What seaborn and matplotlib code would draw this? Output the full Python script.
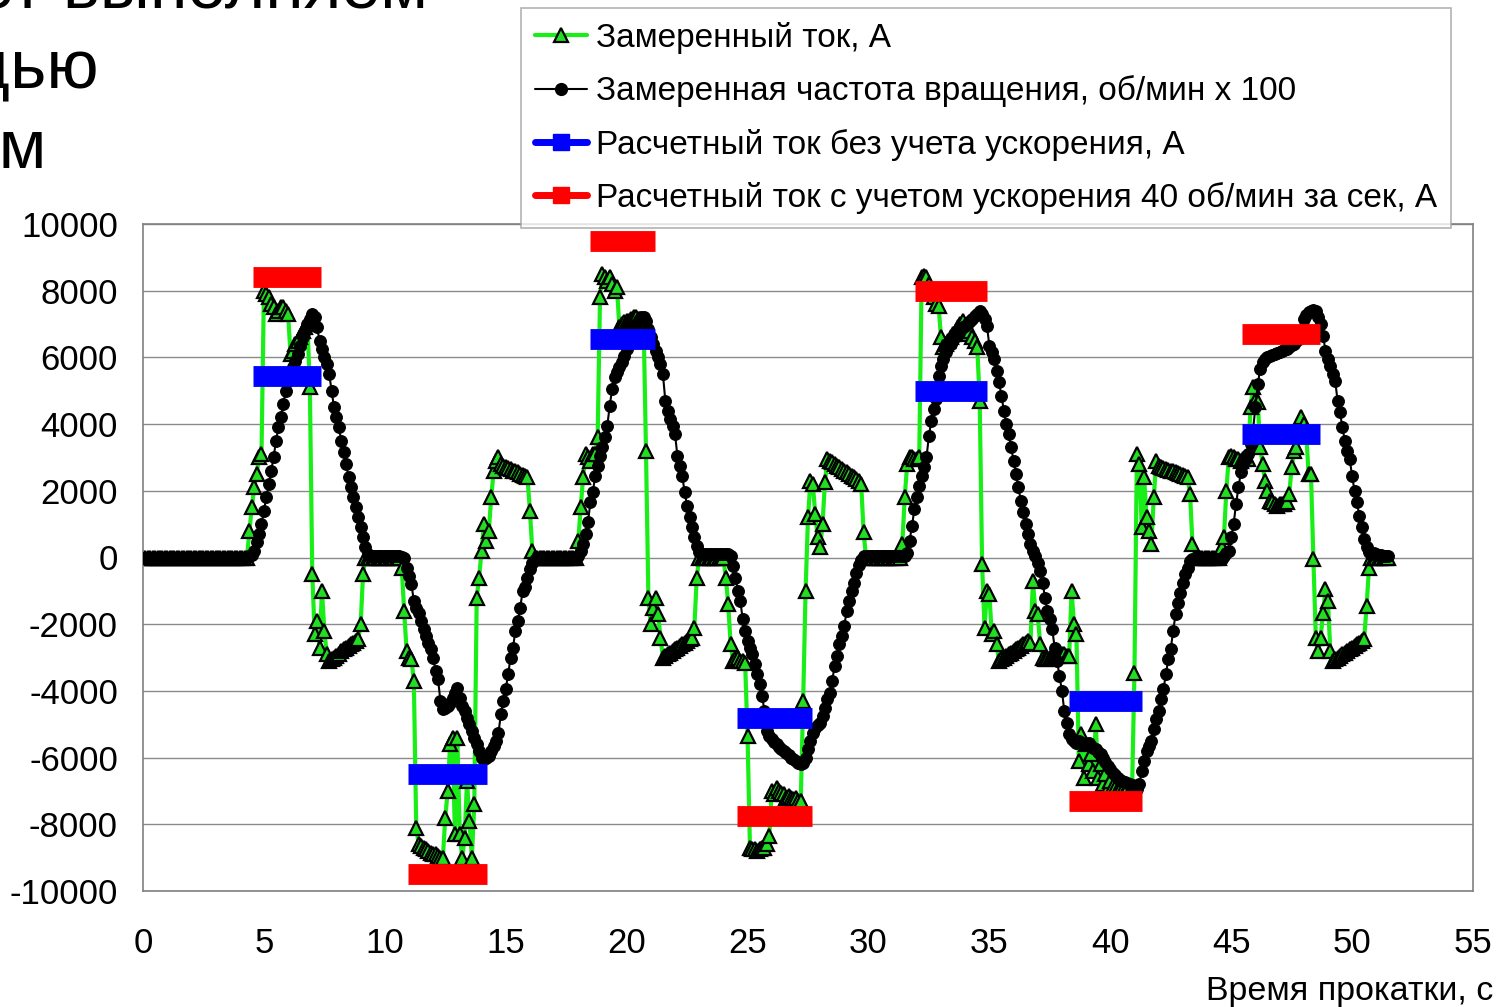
import numpy as np
import pandas as pd
import matplotlib.pyplot as plt
import seaborn as sns
from matplotlib.lines import Line2D

# logger sampling step, s
dt = 0.1

# measured roll speed, rpm (one row = one second)
speed_rpm = [
    0, 0, 0, 0, 0, 0, 0, 0, 0, 0,
    0, 0, 0, 0, 0, 0, 0, 0, 0, 0,
    0, 0, 0, 0, 0, 0, 0, 0, 0, 0,
    0, 0, 0, 0, 0, 0, 0, 0, 0, 0,
    0, 0, 0, 0, 0.3, 0.8, 2, 4.5, 7, 10,
    14, 18, 22, 26, 30, 35, 39, 42, 46, 50,
    53, 55.5, 57, 59, 61, 63.5, 66, 68, 70, 71.5,
    73, 72, 69, 65, 62.5, 60, 58, 55, 50, 45,
    42, 39, 35, 31.5, 28, 24, 21, 18, 15, 12,
    9, 6, 3, 1, 0.5, 0.3, 0.3, 0.3, 0.3, 0.3,
    0.3, 0.3, 0.3, 0.3, 0.3, 0.3, 0.3, 0.2, 0, -3,
    -5.5, -8, -13, -15, -16.5, -19, -21.5, -23.5, -25.5, -27.5,
    -30, -34, -36.5, -43, -45.5, -45, -44.5, -43.5, -42, -40.5,
    -39, -42, -44.5, -46, -48, -50, -52, -54, -56, -58,
    -60, -60.5, -60, -59.5, -58, -56.5, -55, -52.5, -47, -43,
    -39.5, -35, -30, -27, -22, -19, -15, -10, -8.7, -6,
    -3.5, -1.5, -0.8, -0.5, -0.5, -0.5, -0.5, -0.5, -0.5, -0.5,
    -0.5, -0.5, -0.5, -0.5, -0.5, -0.5, -0.5, -0.5, -0.5, -0.5,
    0.5, 2, 4, 7, 10.5, 16.5, 19.5, 24.5, 27.5, 30.5,
    33, 36, 39.5, 45.5, 50.5, 54, 55.5, 57, 58.5, 60.5,
    62.5, 64, 65.5, 67.5, 70, 71.3, 72.2, 72, 70.8, 68.5,
    66, 64, 62, 60, 58, 55, 47, 44, 41.5, 39.5,
    37, 30.5, 27.5, 24.5, 19.5, 15.5, 12, 9, 6, 3.3,
    1.5, 1, 1, 1, 1, 1, 1, 1, 1, 1,
    1, 1, 1, 0.5, -2.5, -6, -10, -13, -18.5, -22,
    -25, -27, -29, -32, -35, -38, -41.5, -46, -52, -53.5,
    -54.5, -55.3, -56, -56.8, -57.5, -58, -58.7, -59.3, -60, -60.5,
    -61, -61.5, -62, -61.5, -60, -57.5, -55, -52.5, -51, -50.3,
    -49.5, -47.5, -45, -42.5, -40.5, -37, -32.5, -29.5, -26, -23.5,
    -20.5, -16, -13, -10, -7.5, -4.5, -2.3, -0.8, 0.3, 0.3,
    0.3, 0.3, 0.3, 0.3, 0.3, 0.3, 0.3, 0.3, 0.3, 0.3,
    0.3, 0.3, 0.3, 0.3, 0.3, 0.5, 1.2, 5, 9.5, 14.5,
    18, 21.5, 24.5, 27, 30, 36.5, 41, 44.5, 47.5, 54.5,
    57.5, 59.5, 61.5, 63, 64, 65.3, 66.3, 67.3, 68.3, 69,
    69.5, 70.2, 70.8, 71.5, 72.3, 73, 73.8, 73, 71.5, 69.5,
    63.5, 61.5, 59.5, 56, 52.5, 48.5, 44, 40, 37, 33,
    29, 25, 21, 17, 13.5, 10, 7, 4, 2, 0.5,
    -1.5, -4, -7.5, -12, -16, -18.5, -21.5, -27, -31, -35.5,
    -40, -46, -49.5, -53, -54.5, -55, -55.5, -55, -55.5, -56,
    -56, -55.5, -56.5, -57, -57.5, -58.3, -59, -60, -61.3, -62.5,
    -63.5, -64.5, -65.3, -66, -66.7, -67, -67.3, -67.6, -67.8, -68.2,
    -68.8, -69.5, -68, -64, -61, -58, -56.5, -55, -51.5, -48.5,
    -46, -42.5, -39.5, -35, -30.5, -27.5, -22, -17, -13.5, -10.5,
    -7.5, -5, -3, -1, -0.5, -0.3, -0.3, -0.3, -0.3, -0.3,
    -0.3, -0.3, -0.3, -0.3, -0.3, -0.3, -0.3, 0.5, 1.2, 2,
    6, 10, 16, 21, 25.5, 28, 29.5, 31, 34, 38,
    45, 52, 56.5, 58.5, 59.5, 60, 60.3, 60.6, 60.9, 61.2,
    61.5, 61.8, 62.2, 62.6, 63.1, 63.6, 64.1, 64.8, 65.6, 67.5,
    71.5, 72.8, 73.5, 74, 74.3, 74, 72, 70, 66.5, 62,
    59.5, 57.5, 55, 53, 47, 43.5, 39, 35, 32, 29.5,
    24.5, 20, 16.5, 12.5, 9, 5.5, 3, 1.5, 1, 1.2,
    1, 0.8, 0.6, 0.5, 0.4, 0.3,
]

# measured motor current, kA (same sampling)
current_ka = [
    0, 0, 0, 0, 0, 0, 0, 0, 0, 0,
    0, 0, 0, 0, 0, 0, 0, 0, 0, 0,
    0, 0, 0, 0, 0, 0, 0, 0, 0, 0,
    0, 0, 0, 0, 0, 0, 0, 0, 0, 0,
    0, 0, 0, 0, 0.8, 1.5, 2.1, 2.5, 3.0, 3.1,
    8.0, 7.9, 7.8, 7.6, 7.5, 7.3, 7.4, 7.5, 7.5, 7.4,
    7.3, 6.1, 6.2, 6.4, 6.5, 6.6, 6.8, 6.9, 7.0, 5.1,
    -0.5, -2.3, -1.9, -2.7, -1.0, -2.2, -2.9, -3.1, -3.05, -3.0,
    -2.95, -2.9, -2.8, -2.75, -2.7, -2.65, -2.6, -2.55, -2.5, -2.45,
    -2.0, -0.5, 0, 0, 0, 0, 0, 0, 0, 0,
    0, 0, 0, 0, 0, 0, 0, -0.3, -1.6, -2.8,
    -3.0, -3.05, -3.7, -8.1, -8.6, -8.65, -8.7, -8.75, -8.8, -8.85,
    -8.9, -8.9, -8.95, -9.0, -9.0, -7.8, -7.0, -5.6, -5.4, -8.3,
    -5.4, -8.3, -9.0, -8.4, -6.7, -7.9, -9.0, -7.4, -1.2, -0.6,
    0.2, 1.0, 0.5, 0.8, 1.8, 2.6, 2.9, 3.0, 2.8, 2.75,
    2.7, 2.68, 2.65, 2.6, 2.58, 2.55, 2.5, 2.48, 2.45, 2.4,
    1.4, 0.2, 0, 0, 0, 0, 0, 0, 0, 0,
    0, 0, 0, 0, 0, 0, 0, 0, 0, 0,
    0.5, 1.5, 2.4, 3.1, 3.0, 2.9, 3.1, 3.1, 3.6, 7.8,
    8.5, 8.4, 8.3, 8.4, 8.2, 8.0, 8.1, 6.9, 7.0, 7.05,
    7.1, 7.1, 7.15, 7.2, 7.2, 7.15, 7.1, 7.1, 3.2, -1.2,
    -2.0, -1.5, -1.2, -1.7, -2.4, -3.0, -2.95, -2.9, -2.85, -2.8,
    -2.75, -2.7, -2.65, -2.6, -2.55, -2.5, -2.45, -2.4, -2.1, -0.6,
    0, 0, 0, 0, 0, 0, 0, 0, 0, 0,
    0, -0.6, -1.4, -2.6, -3.1, -3.05, -3.0, -3.1, -3.1, -3.15,
    -5.35, -8.7, -8.75, -8.75, -8.8, -8.75, -8.7, -8.7, -8.6, -8.35,
    -7.0, -7.1, -6.9, -7.0, -7.05, -7.1, -7.2, -7.15, -7.2, -7.25,
    -7.2, -7.3, -7.3, -4.3, -1.0, 1.2, 2.3, 2.2, 1.3, 0.6,
    0.3, 1.0, 2.25, 2.95, 2.9, 2.85, 2.8, 2.75, 2.7, 2.65,
    2.6, 2.55, 2.5, 2.45, 2.4, 2.35, 2.3, 2.2, 0.75, 0,
    0, 0, 0, 0, 0, 0, 0, 0, 0, 0,
    0, 0, 0, 0, 0.4, 1.8, 2.8, 3.0, 3.0, 2.95,
    2.95, 3.0, 8.4, 8.45, 8.4, 8.2, 8.0, 7.8, 7.6, 7.55,
    6.6, 6.3, 6.4, 6.5, 6.6, 6.7, 6.8, 6.9, 7.0, 7.1,
    6.9, 6.7, 6.8, 6.6, 6.5, 6.3, 4.7, -0.2, -2.1, -1.0,
    -1.1, -2.3, -2.2, -2.6, -3.1, -3.05, -3.0, -2.95, -2.9, -2.85,
    -2.8, -2.75, -2.7, -2.65, -2.6, -2.55, -2.5, -2.55, -0.7, -1.6,
    -1.7, -2.6, -3.0, -3.05, -3.05, -3.0, -3.0, -2.95, -2.95, -2.9,
    -2.9, -2.9, -2.95, -2.95, -1.0, -2.0, -2.3, -6.1, -5.3, -6.6,
    -5.6, -6.2, -5.9, -6.4, -5.0, -6.6, -6.2, -6.8, -6.5, -6.9,
    -6.7, -6.85, -6.9, -6.95, -6.95, -7.0, -7.0, -6.95, -7.0, -7.0,
    -3.45, 3.1, 2.8, 0.9, 2.4, 1.2, 0.8, 0.4, 1.8, 2.9,
    2.75, 2.7, 2.68, 2.65, 2.62, 2.6, 2.58, 2.55, 2.52, 2.5,
    2.48, 2.45, 2.4, 1.9, 0.4, 0, 0, 0, 0, 0,
    0, 0, 0, 0, 0, 0, 0.3, 0.6, 2.0, 3.0,
    3.05, 3.0, 2.95, 2.95, 2.9, 2.95, 3.0, 2.95, 4.5, 5.1,
    4.7, 4.65, 3.3, 2.8, 2.3, 2.0, 1.7, 1.65, 1.6, 1.55,
    1.6, 1.6, 1.6, 1.65, 1.9, 2.7, 3.2, 3.3, 3.7, 4.2,
    4.0, 3.8, 2.5, 2.5, -0.05, -2.4, -2.8, -2.4, -1.65, -0.95,
    -1.3, -2.8, -3.1, -3.05, -3.0, -2.95, -2.9, -2.85, -2.8, -2.75,
    -2.7, -2.65, -2.6, -2.55, -2.5, -2.45, -1.45, -0.3, 0, 0,
    0, 0, 0, 0, 0, 0,
]

# calculated current per pass (start/end of pass, s; current, A)
pass_start = [4.55, 10.95, 18.5, 24.57, 31.93, 38.28, 45.44]
pass_end = [7.38, 14.22, 21.18, 27.67, 34.92, 41.3, 48.66]
calc_no_accel = [5450, -6500, 6550, -4800, 5000, -4300, 3700]
calc_accel = [8400, -9500, 9500, -7750, 8000, -7300, 6700]

labels = [
    'Замеренный ток, А',
    'Замеренная частота вращения, об/мин х 100',
    'Расчетный ток без учета ускорения, А',
    'Расчетный ток с учетом ускорения 40 об/мин за сек, А',
]

sns.set_theme(style='white')
plt.rcParams['font.family'] = ['Liberation Sans', 'DejaVu Sans']
plt.rcParams['axes.unicode_minus'] = False
plt.rcParams['text.color'] = 'black'

t = np.arange(len(speed_rpm)) * dt
meas = pd.DataFrame({
    't': t,
    'current': np.array(current_ka) * 1000,
    'speed': np.array(speed_rpm) * 100,
})

calc = pd.DataFrame({
    'seg': np.repeat(np.arange(len(pass_start)), 2),
    't': np.ravel(np.column_stack([pass_start, pass_end])),
    'no_accel': np.repeat(calc_no_accel, 2),
    'accel': np.repeat(calc_accel, 2),
})

fig = plt.figure(figsize=(14.99, 10.07), dpi=100)
ax = fig.add_axes([143 / 1499, 116 / 1007, 1330 / 1499, 667 / 1007])

green = '#19ee19'
sns.lineplot(data=meas, x='t', y='current', ax=ax, estimator=None, sort=False,
             color=green, lw=3, marker='^', markersize=10.5,
             markerfacecolor='#22dd22', markeredgecolor='black',
             markeredgewidth=1.6, zorder=2)
sns.lineplot(data=meas, x='t', y='speed', ax=ax, estimator=None, sort=False,
             color='black', lw=1.5, marker='o', markersize=8.5,
             markeredgecolor='black', zorder=3)
sns.lineplot(data=calc, x='t', y='no_accel', units='seg', ax=ax, estimator=None,
             color='#0000ff', lw=15, solid_capstyle='butt', zorder=4)
sns.lineplot(data=calc, x='t', y='accel', units='seg', ax=ax, estimator=None,
             color='#ff0000', lw=15, solid_capstyle='butt', zorder=5)

ax.set_xlim(0, 55)
ax.set_ylim(-10000, 10000)
ax.set_xticks(np.arange(0, 56, 5))
ax.set_yticks(np.arange(-10000, 10001, 2000))
ax.set_xlabel('')
ax.set_ylabel('')
ax.yaxis.grid(True, color='#8a8a8a', lw=1)
ax.xaxis.grid(False)
for s in ax.spines.values():
    s.set_color('#808080')
    s.set_linewidth(1.2)
ax.tick_params(axis='both', which='both', direction='out', length=8,
               color='#808080', width=1.2, labelsize=25, labelcolor='black')
ax.tick_params(axis='x', pad=18)
ax.tick_params(axis='y', pad=10)

fig.text(1493 / 1499, 1 - 1000 / 1007, 'Время прокатки, с', ha='right',
         va='baseline', fontsize=24.5, color='black')

# legend
handles = [
    Line2D([], [], color=green, lw=3, marker='^', markersize=10.5,
           markerfacecolor='#22dd22', markeredgecolor='black', markeredgewidth=1.6),
    Line2D([], [], color='black', lw=1.5, marker='o', markersize=8.5),
    Line2D([], [], color='#0000ff', lw=5, marker='s', markersize=12),
    Line2D([], [], color='#ff0000', lw=5, marker='s', markersize=12),
]
leg = fig.legend(handles, labels, loc='upper left',
                 bbox_to_anchor=(521 / 1499, 1 - 8 / 1007), borderaxespad=0,
                 frameon=True, fancybox=False, edgecolor='#a0a0a0',
                 fontsize=24, handlelength=1.56, handletextpad=0.28,
                 labelspacing=0.64, borderpad=0.42)
leg.get_frame().set_linewidth(1.2)
for txt in leg.get_texts():
    txt.set_color('black')

# slide title, cut by the page edge
for x_px, y_px, line in [(428, 7, 'Расчет выполняем'),
                         (99, 88, 'с помощью'),
                         (46, 168, 'методом')]:
    fig.text(x_px / 1499, 1 - y_px / 1007, line, ha='right',
             va='baseline', fontsize=50, color='black')

fig.savefig('out.png', dpi=100)
